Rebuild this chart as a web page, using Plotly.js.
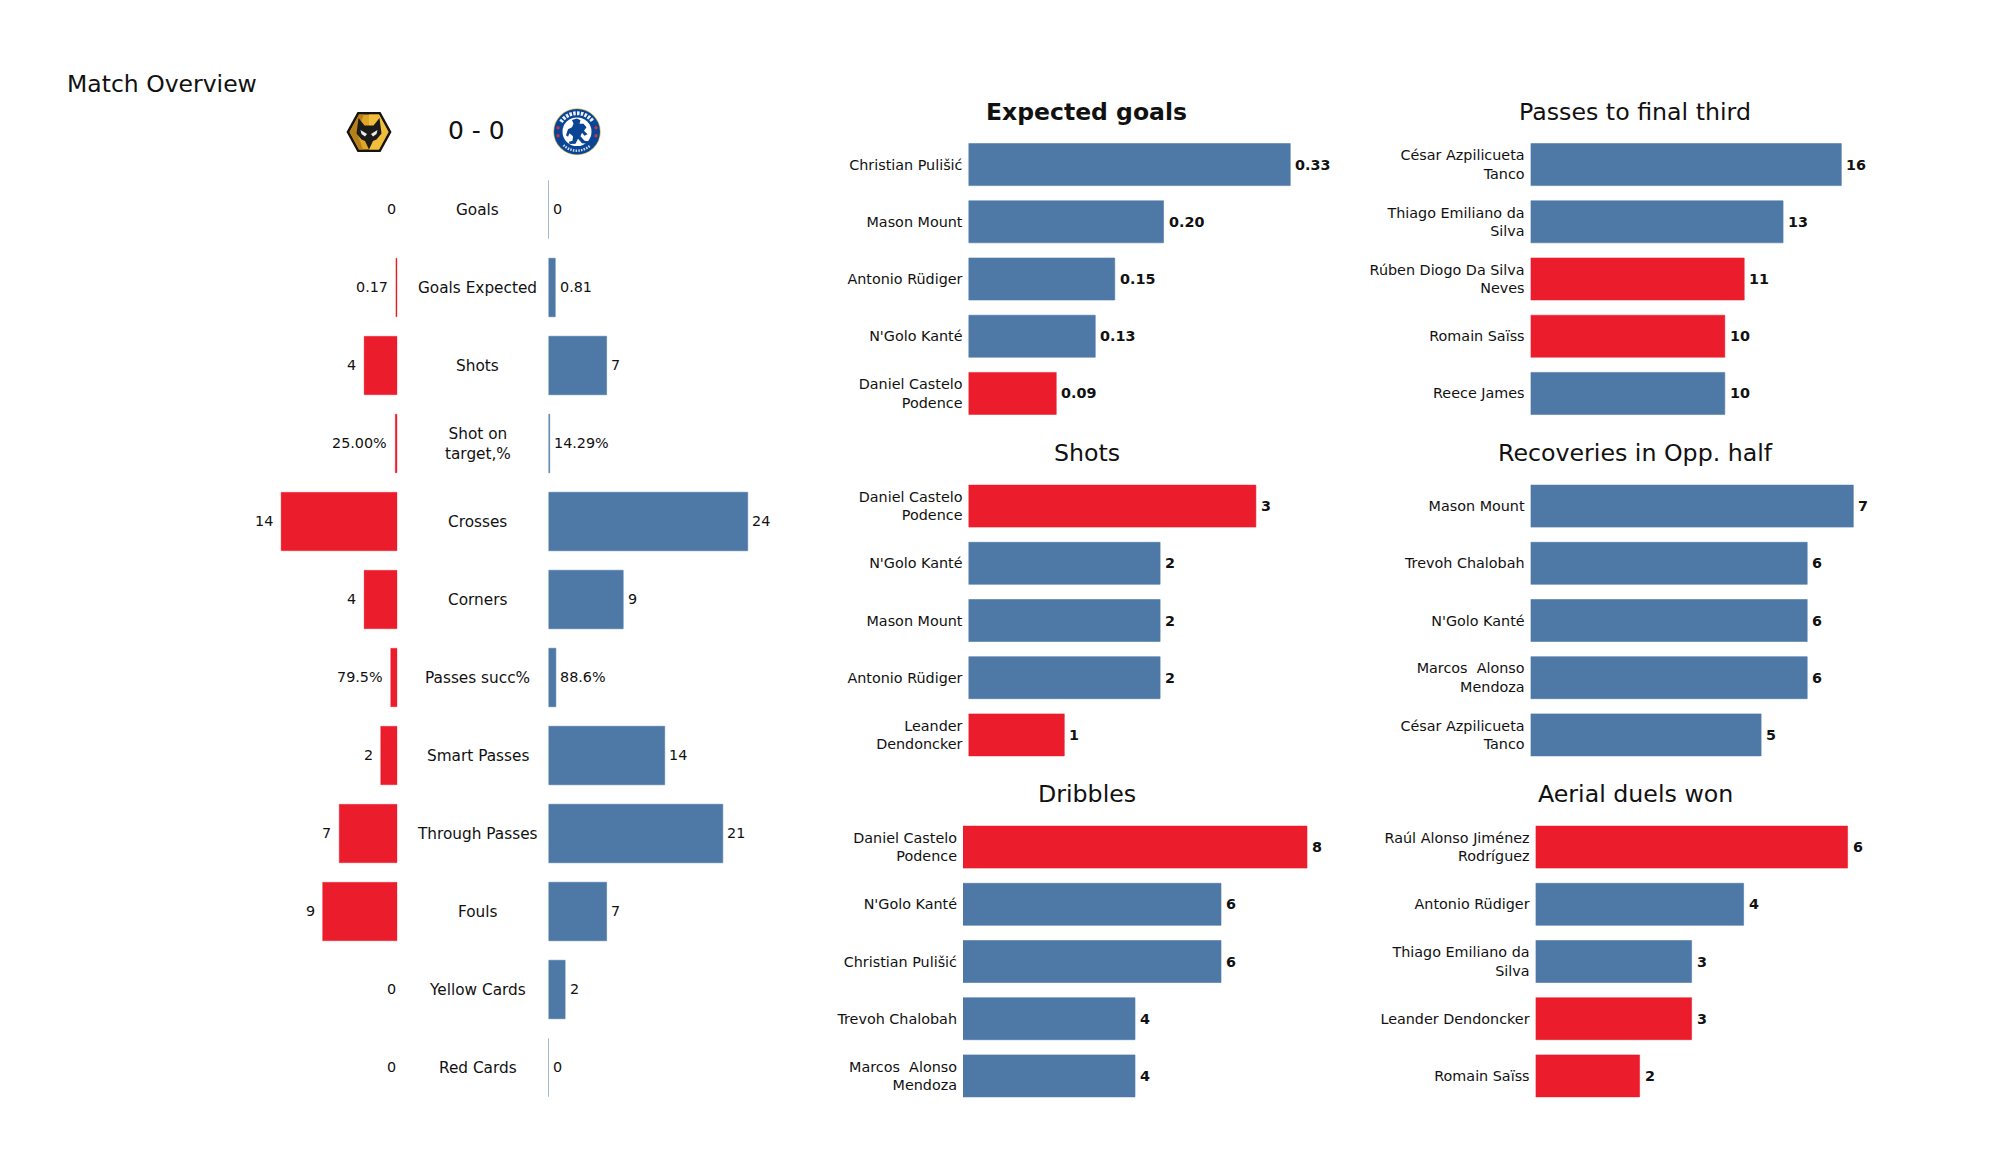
<!DOCTYPE html>
<html>
<head>
<meta charset="utf-8">
<script src="https://cdn.plot.ly/plotly-3.0.1.min.js"></script>
<style>html,body{margin:0;padding:0;background:#fff}#chart{width:2000px;height:1175px}</style>
</head>
<body>
<div id="chart"></div>
<script>
// ---------- data ----------
const statCategories = ["Goals","Goals Expected","Shots","Shot on<br>target,%","Crosses","Corners","Passes succ%","Smart Passes","Through Passes","Fouls","Yellow Cards","Red Cards"];
const wolvesValues  = [0,0.17,4,0.25,14,4,0.795,2,7,9,0,0];
const chelseaValues = [0,0.81,7,0.1429,24,9,0.886,14,21,7,2,0];
const wolvesLabels  = ["0","0.17","4","25.00%","14","4","79.5%","2","7","9","0","0"];
const chelseaLabels = ["0","0.81","7","14.29%","24","9","88.6%","14","21","7","2","0"];

const xgNames = ["Christian Pulišić","Mason Mount","Antonio Rüdiger","N'Golo Kanté","Daniel Castelo<br>Podence"];
const xgValues = [0.33,0.20,0.15,0.13,0.09];
const xgLabels = ["0.33","0.20","0.15","0.13","0.09"];
const xgTeams = ["C","C","C","C","W"];

const finalThirdNames = ["César Azpilicueta<br>Tanco","Thiago Emiliano da<br>Silva","Rúben Diogo Da Silva<br>Neves","Romain Saïss","Reece James"];
const finalThirdValues = [16,13,11,10,10];
const finalThirdTeams = ["C","C","W","W","C"];

const shotNames = ["Daniel Castelo<br>Podence","N'Golo Kanté","Mason Mount","Antonio Rüdiger","Leander<br>Dendoncker"];
const shotValues = [3,2,2,2,1];
const shotTeams = ["W","C","C","C","W"];

const recoveryNames = ["Mason Mount","Trevoh Chalobah","N'Golo Kanté","Marcos  Alonso<br>Mendoza","César Azpilicueta<br>Tanco"];
const recoveryValues = [7,6,6,6,5];
const recoveryTeams = ["C","C","C","C","C"];

const dribbleNames = ["Daniel Castelo<br>Podence","N'Golo Kanté","Christian Pulišić","Trevoh Chalobah","Marcos  Alonso<br>Mendoza"];
const dribbleValues = [8,6,6,4,4];
const dribbleTeams = ["W","C","C","C","C"];

const aerialNames = ["Raúl Alonso Jiménez<br>Rodríguez","Antonio Rüdiger","Thiago Emiliano da<br>Silva","Leander Dendoncker","Romain Saïss"];
const aerialValues = [6,4,3,3,2];
const aerialTeams = ["W","C","C","W","W"];

// ---------- layout helpers ----------
const W = 2000, H = 1175;
const RED = "#EB1C2B", BLUE = "#4E79A7";
const FONT = "DejaVu Sans";
const INK = "#111111";
const colorOf = t => t === "W" ? RED : BLUE;
const edgeOf = t => t === "W" ? "rgba(235,28,43,0.55)" : "rgba(78,121,167,0.6)";
const fx = p => p / W;
const fy = p => 1 - p / H;

const traces = [], annotations = [];
const layout = {
  width: W, height: H, margin: {l:0,r:0,t:0,b:0,pad:0},
  paper_bgcolor: "#fff", plot_bgcolor: "#fff", showlegend: false,
  font: {family: FONT, color: INK}, annotations, barmode: "overlay",
  images: [], hovermode: false
};

let axisN = 0;
function addAxes(xPx0, xPx1, xRange, yPx0, yPx1, yCats, showTicks) {
  axisN++;
  const xn = axisN === 1 ? "xaxis" : "xaxis" + axisN;
  const yn = axisN === 1 ? "yaxis" : "yaxis" + axisN;
  layout[xn] = {domain:[fx(xPx0), fx(xPx1)], range:xRange, visible:false, fixedrange:true, anchor: "y"+(axisN===1?"":axisN)};
  layout[yn] = {domain:[fy(yPx1), fy(yPx0)], type:"category", categoryorder:"array", categoryarray:yCats,
    tickmode:"array", tickvals:yCats, ticktext:yCats,
    range:[yCats.length-0.5,-0.5], showgrid:false, zeroline:false, showline:false, ticks:"", fixedrange:true,
    showticklabels:!!showTicks, tickfont:{family:FONT,size:14.35,color:INK}, ticklabelstandoff:5, automargin:false,
    anchor: "x"+(axisN===1?"":axisN)};
  return {x:"x"+(axisN===1?"":axisN), y:"y"+(axisN===1?"":axisN)};
}

// ---------- left overview panel ----------
const STAT_TOP = 170.5, STAT_PITCH = 78, UNIT = 8.3;
const statBottom = STAT_TOP + STAT_PITCH*statCategories.length;
const statBar = 58.5/STAT_PITCH;
const leftAxis = 397.3, rightAxis = 548.5, statSpan = 240;
const statRows = statCategories.map((c,i)=>c);

const la = addAxes(leftAxis-statSpan, leftAxis, [statSpan/UNIT,0], STAT_TOP, statBottom, statRows, false);
traces.push({type:"bar",orientation:"h",x:wolvesValues,y:statRows,xaxis:la.x,yaxis:la.y,width:statBar,
  marker:{color:RED,line:{width:wolvesValues.map(v=>v>0?0.6:0),color:edgeOf("W")}},hoverinfo:"skip"});
const ra = addAxes(rightAxis, rightAxis+statSpan, [0,statSpan/UNIT], STAT_TOP, statBottom, statRows, false);
traces.push({type:"bar",orientation:"h",x:chelseaValues,y:statRows,xaxis:ra.x,yaxis:ra.y,width:statBar,
  marker:{color:BLUE,line:{width:1,color:edgeOf("C")}},hoverinfo:"skip"});

statRows.forEach((c,i)=>{
  annotations.push({xref:la.x,yref:la.y,x:wolvesValues[i],y:c,text:wolvesLabels[i],showarrow:false,
    xanchor:"right",xshift:wolvesValues[i]===0?1:-6,yshift:0.8,font:{family:FONT,size:14.35,color:INK}});
  annotations.push({xref:ra.x,yref:ra.y,x:chelseaValues[i],y:c,text:chelseaLabels[i],showarrow:false,
    xanchor:"left",xshift:2.5,yshift:0.8,font:{family:FONT,size:14.35,color:INK}});
  annotations.push({xref:"paper",yref:ra.y,x:fx(477.5),y:c,text:c,showarrow:false,xanchor:"center",yshift:-0.8,
    font:{family:FONT,size:15.3,color:INK}});
});

// ---------- player panels ----------
const panels = [
  {title:"Expected goals",bold:true,names:xgNames,vals:xgValues,labels:xgLabels,teams:xgTeams,x0:968.5,unit:975,top:136,tx:1086.5,ty:111.5},
  {title:"Passes to final third",names:finalThirdNames,vals:finalThirdValues,teams:finalThirdTeams,x0:1530.6,unit:19.42,top:136,tx:1635,ty:111.5},
  {title:"Shots",names:shotNames,vals:shotValues,teams:shotTeams,x0:968.5,unit:95.8,top:477.5,tx:1086.5,ty:453.3},
  {title:"Recoveries in Opp. half",names:recoveryNames,vals:recoveryValues,teams:recoveryTeams,x0:1530.6,unit:46.1,top:477.5,tx:1635,ty:453.3},
  {title:"Dribbles",names:dribbleNames,vals:dribbleValues,teams:dribbleTeams,x0:963,unit:43,top:818.5,tx:1086.5,ty:794},
  {title:"Aerial duels won",names:aerialNames,vals:aerialValues,teams:aerialTeams,x0:1535.6,unit:52,top:818.5,tx:1635,ty:794}
];
const ROW = 57.2, BAR = 42/57.2;
panels.forEach(p=>{
  const span = 420;
  const a = addAxes(p.x0, p.x0+span, [0,span/p.unit], p.top, p.top+ROW*5, p.names, true);
  traces.push({type:"bar",orientation:"h",x:p.vals,y:p.names,xaxis:a.x,yaxis:a.y,width:BAR,
    marker:{color:p.teams.map(colorOf),line:{width:1,color:p.teams.map(edgeOf)}},hoverinfo:"skip"});
  p.names.forEach((n,i)=>{
    annotations.push({xref:a.x,yref:a.y,x:p.vals[i],y:n,text:"<b>"+(p.labels?p.labels[i]:p.vals[i])+"</b>",
      showarrow:false,xanchor:"left",xshift:3,font:{family:FONT,size:14.35,color:INK}});
  });
  annotations.push({xref:"paper",yref:"paper",x:fx(p.tx),y:fy(p.ty),text:p.bold?"<b>"+p.title+"</b>":p.title,
    showarrow:false,xanchor:"center",yanchor:"middle",font:{family:FONT,size:p.bold?23.5:23.7,color:INK}});
});

// ---------- header ----------
annotations.push({xref:"paper",yref:"paper",x:fx(65.2),y:fy(84),text:"Match Overview",showarrow:false,
  xanchor:"left",yanchor:"middle",font:{family:FONT,size:23.5,color:INK}});
annotations.push({xref:"paper",yref:"paper",x:fx(476),y:fy(131),text:"0 - 0",showarrow:false,
  xanchor:"center",yanchor:"middle",font:{family:FONT,size:25,color:INK}});

// ---------- club badges ----------
const wolvesBadge = `<svg xmlns="http://www.w3.org/2000/svg" viewBox="0 0 92 82">
<polygon points="1,41 23,1 69,1 91,41 69,81 23,81" fill="#17140f"/>
<polygon points="7,41 26,6 66,6 85,41 66,76 26,76" fill="#e0a526"/>
<polygon points="46,6 66,6 85,41 66,76 46,76" fill="#f0bd3c"/>
<polygon points="7,41 26,6 36,6 22,41 34,76 26,76" fill="#b5801a"/>
<path d="M25,13 L37,28 L55,28 L67,13 L71,44 L61,56 L54,59 L46,76 L38,59 L31,56 L21,44 Z" fill="#1d1b19"/>
<path d="M29,37 L42,45 L38,50 L31,45 Z M63,37 L50,45 L54,50 L61,45 Z" fill="#ececec"/>
</svg>`;
const dots = [[10,40],[10,56],[86,40],[86,56]].map(d=>`<circle cx="${d[0]}" cy="${d[1]}" r="3.4" fill="#c8324a"/>`).join("");
const chelseaBadge = `<svg xmlns="http://www.w3.org/2000/svg" viewBox="0 0 96 96">
<circle cx="48" cy="48" r="47.5" fill="#d8c468"/>
<circle cx="48" cy="48" r="46" fill="#0a4595"/>
<circle cx="48" cy="48" r="29" fill="#ffffff"/>
<path d="M16,28 A38,38 0 0 1 80,28" fill="none" stroke="#eef2f8" stroke-width="8" stroke-dasharray="5 2.6"/>
<path d="M21,75 A38,38 0 0 0 75,75" fill="none" stroke="#cfdaea" stroke-width="5" stroke-dasharray="3 2.4"/>
${dots}
<path d="M38,24 L48,21 L55,25 L53,32 L61,32 L67,39 L62,46 L69,53 L63,56 L58,50 L55,57 L63,66 L70,67 L69,72 L58,71 L50,62 L45,72 L33,73 L32,68 L39,66 L40,57 L33,51 L30,58 L26,55 L30,43 L38,39 L41,32 Z" fill="#0a4595"/>
</svg>`;
const uri = s => "data:image/svg+xml;charset=utf-8," + encodeURIComponent(s);
layout.images.push({source:uri(wolvesBadge),xref:"paper",yref:"paper",x:fx(346),y:fy(111.5),sizex:46/W,sizey:41/H,
  sizing:"stretch",xanchor:"left",yanchor:"top",layer:"above"});
layout.images.push({source:uri(chelseaBadge),xref:"paper",yref:"paper",x:fx(553),y:fy(108),sizex:48/W,sizey:47.5/H,
  sizing:"stretch",xanchor:"left",yanchor:"top",layer:"above"});

Plotly.newPlot("chart", traces, layout, {staticPlot:true, displayModeBar:false});
</script>
</body>
</html>
